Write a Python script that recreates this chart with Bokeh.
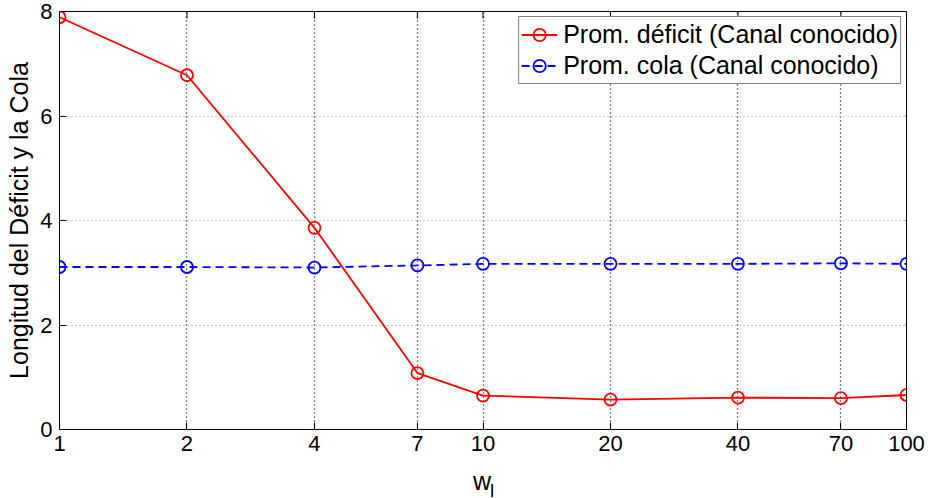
from bokeh.plotting import figure
from bokeh.layouts import column
from bokeh.models import FixedTicker, Range1d
from bokeh.core.properties import value
from bokeh.embed import file_html
from bokeh.resources import INLINE

# ---- data ----
w_values = [1, 2, 4, 7, 10, 20, 40, 70, 100]
deficit = [7.89, 6.78, 3.86, 1.08, 0.65, 0.57, 0.61, 0.60, 0.66]
cola = [3.11, 3.11, 3.10, 3.14, 3.17, 3.17, 3.17, 3.18, 3.17]
x_ticks = [1, 2, 4, 7, 10, 20, 40, 70, 100]
x_tick_labels = ["1", "2", "4", "7", "10", "20", "40", "70", "100"]
y_ticks = [0, 2, 4, 6, 8]
label_deficit = "Prom. déficit (Canal conocido)"
label_cola = "Prom. cola (Canal conocido)"
y_title = "Longitud del Déficit y la Cola"
x_title = "w"
x_title_sub = "l"

FONT = "Liberation Sans"
FW, FH = 847, 418

p = figure(width=930, height=460, x_axis_type="log",
           x_range=Range1d(1, 100), y_range=Range1d(0, 8),
           output_backend="svg", toolbar_location=None,
           min_border_left=59, min_border_right=24,
           min_border_top=11, min_border_bottom=31)
p.outline_line_color = "black"
p.outline_line_width = 1

# axes
xa = p.xaxis[0]
xa.ticker = FixedTicker(ticks=x_ticks, minor_ticks=[])
xa.major_label_overrides = {t: l for t, l in zip(x_ticks, x_tick_labels)}
ya = p.yaxis[0]
ya.ticker = FixedTicker(ticks=y_ticks, minor_ticks=[])
ya.axis_label = y_title
for ax in (xa, ya):
    ax.axis_line_color = "black"
    ax.major_tick_line_color = "black"
    ax.major_tick_in = 7
    ax.major_tick_out = 0
    ax.minor_tick_in = 0
    ax.minor_tick_out = 0
    ax.major_label_text_font = FONT
    ax.major_label_text_font_size = "22px"
    ax.major_label_text_color = "black"
    ax.axis_label_text_font = FONT
    ax.axis_label_text_font_size = "25px"
    ax.axis_label_text_font_style = "normal"
    ax.axis_label_text_color = "black"
xa.major_label_standoff = 6
ya.major_label_standoff = 7
ya.axis_label_standoff = 4

# mirrored ticks on top and right edges (MATLAB box style), via helper ranges
p.extra_y_ranges = {"edge_y": Range1d(0, FH)}
p.extra_x_ranges = {"edge_x": Range1d(0, FW)}
p.segment(x0=x_ticks, x1=x_ticks, y0=[FH] * len(x_ticks), y1=[FH - 7] * len(x_ticks),
          y_range_name="edge_y", line_color="black", line_width=1)
p.segment(x0=[FW] * len(y_ticks), x1=[FW - 7] * len(y_ticks), y0=y_ticks, y1=y_ticks,
          x_range_name="edge_x", line_color="black", line_width=1)

# grids
p.xgrid.ticker = FixedTicker(ticks=x_ticks, minor_ticks=[])
p.xgrid.grid_line_color = "black"
p.xgrid.grid_line_dash = "1 3"
p.xgrid.grid_line_width = 1.3
p.ygrid.ticker = FixedTicker(ticks=y_ticks, minor_ticks=[])
p.ygrid.grid_line_color = "#999999"
p.ygrid.grid_line_dash = "1 3"
p.ygrid.grid_line_width = 1

# series
p.line(w_values, deficit, line_color="red", line_width=1.8, legend_label=label_deficit)
p.scatter(w_values, deficit, marker="circle", size=12, line_color="red",
          fill_color=None, line_width=1.8, legend_label=label_deficit)
p.line(w_values, cola, line_color="blue", line_width=1.8, line_dash="8 5",
       legend_label=label_cola)
p.scatter(w_values, cola, marker="circle", size=12, line_color="blue",
          fill_color=None, line_width=1.8, legend_label=label_cola)

# legend
lg = p.legend[0]
lg.location = "top_right"
lg.margin = 5
lg.padding = 2
lg.spacing = 0
lg.glyph_width = 36
lg.glyph_height = 31
lg.label_height = 31
lg.label_standoff = 6
lg.label_text_font = FONT
lg.label_text_font_size = "25px"
lg.label_text_color = "black"
lg.border_line_color = "black"
lg.border_line_width = 1
lg.background_fill_color = "white"
lg.background_fill_alpha = 1.0

# x axis title strip: "w" with subscript "l" (its frame aligns with the main frame)
t = figure(width=930, height=38, x_range=Range1d(0, FW), y_range=Range1d(38, 0),
           x_axis_type=None, y_axis_type=None,
           output_backend="svg", toolbar_location=None,
           min_border_left=0, min_border_right=0, min_border_top=0, min_border_bottom=0,
           outline_line_color=None)
t.grid.visible = False
t.text(x=[FW / 2 - 1], y=[20], text=[x_title], text_font=value(FONT), text_font_size="25px",
       text_align="center", text_baseline="alphabetic", text_color="black")
t.text(x=[FW / 2 + 7], y=[30], text=[x_title_sub], text_font=value(FONT), text_font_size="19px",
       text_align="left", text_baseline="alphabetic", text_color="black")

layout = column(p, t, spacing=0)
open("out.html", "w").write(file_html(layout, INLINE))
